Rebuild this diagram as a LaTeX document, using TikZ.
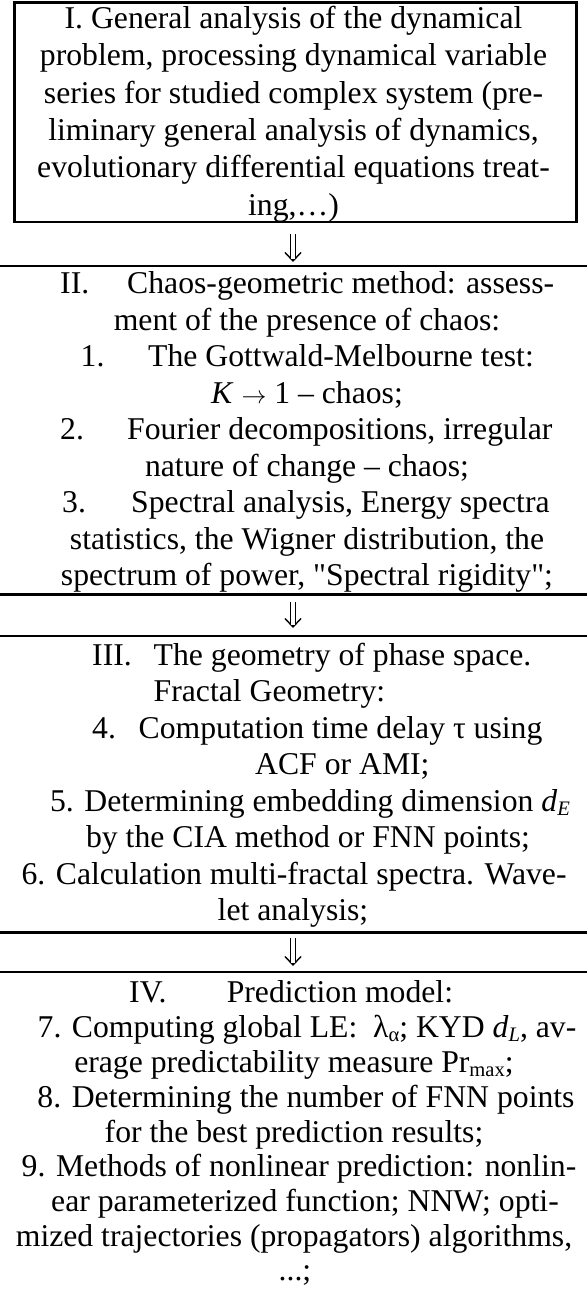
\documentclass[tikz,border=0pt]{standalone}
\usepackage{fontspec}
\setmainfont{Liberation Serif}[Ligatures=TeXOff]
\usetikzlibrary{arrows.meta}
\newcommand\mysub[1]{\raisebox{-4.5pt}{\fontsize{20.6}{20.6}\selectfont #1}}
\begin{document}
\begin{tikzpicture}[x=1pt,y=-1pt,
  ln/.style={anchor=base, inner sep=0pt, font=\fontsize{31.7}{38}\selectfont},
  lnw/.style={anchor=base west, inner sep=0pt, font=\fontsize{31.7}{38}\selectfont},
  rule/.style={line width=2.6pt},
  region/.style={anchor=north west, inner sep=0pt, minimum width=587pt},
  tipline/.style={line width=1.4pt, -{Straight Barb[length=8.5pt,width=16pt]}},
  stem/.style={double, double distance=4pt, line width=1.4pt}]
\useasboundingbox (0,0) rectangle (587,1303);
% box I
\node[draw, line width=2.6pt, anchor=north west, inner sep=0pt,
      minimum width=562pt, minimum height=219.4pt] (b1) at (13.3,1.3) {};
% regions II-IV
\node[region, minimum height=328pt] (b2) at (0,266) {};
\node[region, minimum height=296pt] (b3) at (0,636) {};
\node[region, minimum height=340pt] (b4) at (0,972) {};
\draw[rule] (b2.north west) -- (b2.north east);
\draw[rule] (b2.south west) -- (b2.south east);
\draw[rule] (b3.north west) -- (b3.north east);
\draw[rule] (b3.south west) -- (b3.south east);
\draw[rule] (b4.north west) -- (b4.north east);
% arrows (double-stemmed)
\coordinate (ax) at (293,0);
\draw[tipline, shorten <=11pt, shorten >=4pt] (b1.south -| ax) -- (b2.north -| ax);
\draw[stem, shorten <=11pt, shorten >=7pt] (b1.south -| ax) -- (b2.north -| ax);
\draw[tipline, shorten <=8pt, shorten >=8pt] (b2.south -| ax) -- (b3.north -| ax);
\draw[stem, shorten <=8pt, shorten >=11pt] (b2.south -| ax) -- (b3.north -| ax);
\draw[tipline, shorten <=6pt, shorten >=6pt] (b3.south -| ax) -- (b4.north -| ax);
\draw[stem, shorten <=6pt, shorten >=9pt] (b3.south -| ax) -- (b4.north -| ax);
% text of box I
\node[ln] (t11) at (293.5,28.5) {I. General analysis of the dynamical};
\node[ln] (t12) at (293.5,65.8) {problem, processing dynamical variable};
\node[ln] (t13) at (293.5,103.1) {series for studied complex system (pre-};
\node[ln] (t14) at (293.5,140.4) {liminary general analysis of dynamics,};
\node[ln] (t15) at (293.5,177.7) {evolutionary differential equations treat-};
\node[ln] (t16) at (293.5,215) {ing,…)};
% text of box II
\node[lnw] (t21a) at (60,293.5) {II.};
\node[lnw] (t21b) at (127,293.5) {Chaos-geometric method: assess-};
\node[ln] (t22) at (307,330) {ment of the presence of chaos:};
\node[lnw] (t23a) at (80.5,366.5) {1.};
\node[lnw] (t23b) at (148,366.5) {The Gottwald-Melbourne test:};
\node[ln] (t24) at (307,403) {\textit{K} $\rightarrow$ 1 – chaos;};
\node[lnw] (t25a) at (60,439.5) {2.};
\node[lnw] (t25b) at (127,439.5) {Fourier decompositions, irregular};
\node[ln] (t26) at (307,476) {nature of change – chaos;};
\node[lnw] (t27a) at (62,512.5) {3.};
\node[lnw] (t27b) at (131,512.5) {Spectral analysis, Energy spectra};
\node[ln] (t28) at (307,549) {statistics, the Wigner distribution, the};
\node[ln] (t29) at (307,585.5) {spectrum of power, "Spectral rigidity";};
% text of box III
\node[lnw] (t31a) at (92,665) {III.};
\node[lnw] (t31b) at (153.5,665) {The geometry of phase space.};
\node[lnw] (t32) at (153.5,701.5) {Fractal Geometry:};
\node[lnw] (t33a) at (92,738) {4.};
\node[lnw] (t33b) at (138.5,738) {Computation time delay τ using};
\node[lnw] (t34) at (255,774.5) {ACF or AMI;};
\node[ln] (t35) at (310,811) {5. Determining embedding dimension \textit{d}\mysub{\textit{E}}};
\node[ln] (t36) at (308,847.5) {by the CIA method or FNN points;};
\node[ln] (t37) at (294,884) {6. Calculation multi-fractal spectra. Wave-};
\node[ln] (t38) at (293,920.5) {let analysis;};
% text of box IV
\node[lnw] (t41a) at (129,1002) {IV.};
\node[lnw] (t41b) at (226.6,1002) {Prediction model:};
\node[ln] (t42) at (307,1037) {7. Computing global LE:\ \ λ\mysub{α}; KYD \textit{d}\mysub{\textit{L}}, av-};
\node[ln] (t43) at (294,1072) {erage predictability measure Pr\mysub{max};};
\node[ln] (t44) at (306,1107) {8. Determining the number of FNN points};
\node[ln] (t45) at (294,1142) {for the best prediction results;};
\node[ln] (t46) at (299,1176) {9. Methods of nonlinear prediction: nonlin-};
\node[ln] (t47) at (305,1211) {ear parameterized function; NNW; opti-};
\node[ln] (t48) at (294,1246) {mized trajectories (propagators) algorithms,};
\node[ln] (t49) at (295,1280) {...;};
\end{tikzpicture}
\end{document}
